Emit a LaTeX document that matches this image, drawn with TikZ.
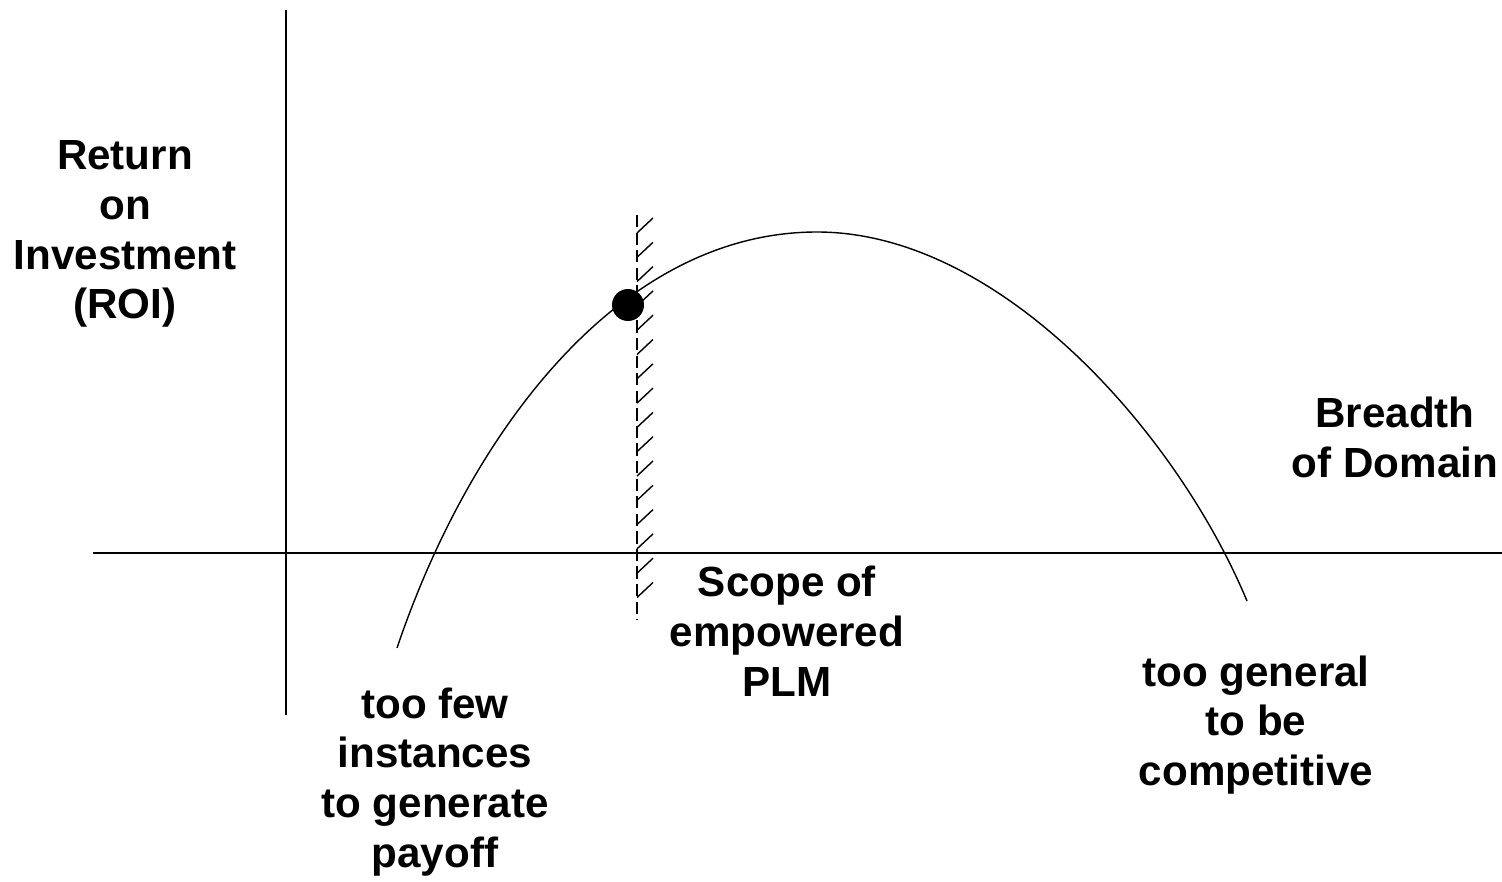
\documentclass[tikz,border=0pt]{standalone}
\usepackage{fontspec}
\setmainfont{Liberation Sans}
\begin{document}
\begin{tikzpicture}[x=0.02cm, y=-0.02cm,
  label/.style={font=\fontsize{24}{28.4}\selectfont\bfseries, align=center, inner sep=0pt}]
  \useasboundingbox (0,0) rectangle (1502,882);

  % Axes
  \draw[line width=1.1pt] (286,10) -- (286,715);
  \draw[line width=1.1pt] (93,553) -- (1502,553);

  % Boundary of the scope (dashed, hatched on the right)
  \draw[line width=0.8pt, dash pattern=on 7pt off 3pt] (637,215) -- (637,620);
  \foreach \k in {0,...,15}
    \draw[line width=0.8pt] (637,{233+\k*24.3}) -- (653,{218+\k*24.3});

  % ROI curve
  \draw[line width=0.8pt] (397,648) .. controls (470,432) and (620,232) .. (817,232)
    .. controls (1000,232) and (1177,433) .. (1247,601);

  % Operating point
  \node[circle, fill=black, minimum size=0.64cm, inner sep=0pt] (pt) at (628,305) {};

  % Labels
  \node[label] (roi) at (125,234) {Return\\on\\Investment\\(ROI)};
  \node[label] (breadth) at (1395,437) {Breadth\\of Domain};
  \node[label] (scope) at (787,631) {Scope of\\empowered\\PLM};
  \node[label] (few) at (435,782) {too few\\instances\\to generate\\payoff};
  \node[label] (general) at (1256,725) {too general\\to be\\competitive};
\end{tikzpicture}
\end{document}
